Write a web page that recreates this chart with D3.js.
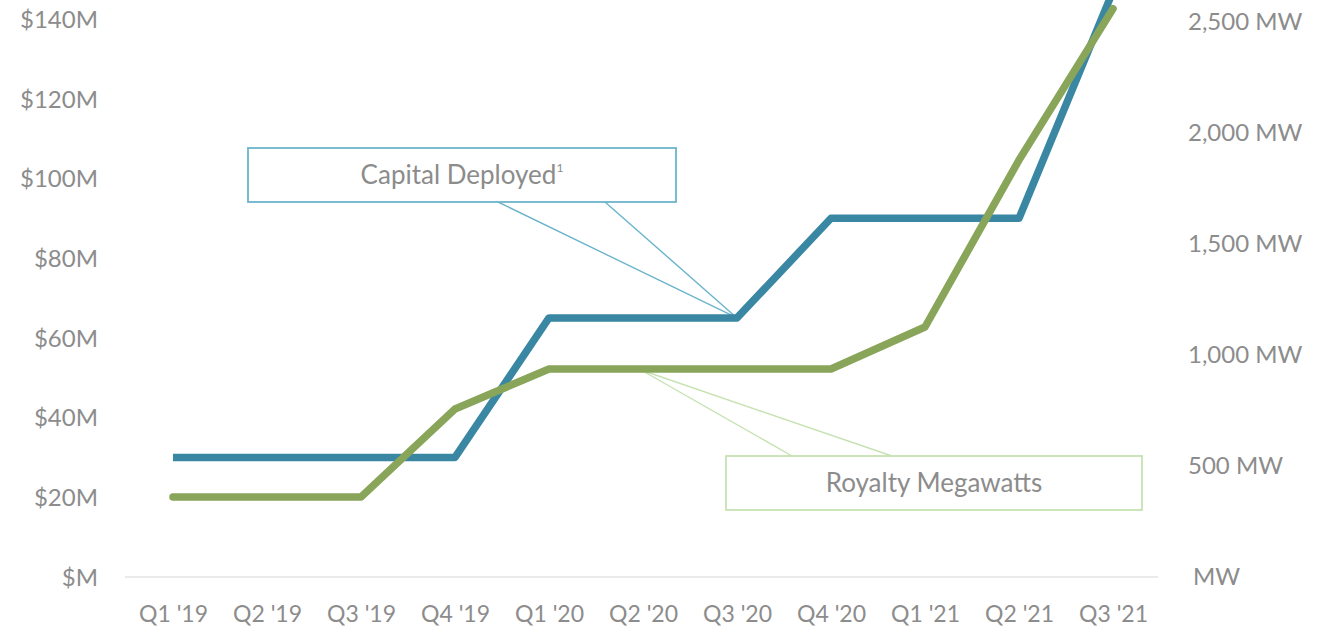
<!DOCTYPE html>
<html>
<head>
<meta charset="utf-8">
<script src="https://cdnjs.cloudflare.com/ajax/libs/d3/7.8.5/d3.min.js"></script>
<style>
  body { margin: 0; background: #fff; }
  svg { display: block; }
  text { font-family: Lato, "Open Sans", sans-serif; fill: #8c8c8c; }
  .axis text { font-size: 24px; }
  .axis.x text { font-size: 23px; }
  .axis path, .axis line { display: none; }
</style>
</head>
<body>
<script>
var quarters = ["Q1 '19", "Q2 '19", "Q3 '19", "Q4 '19", "Q1 '20", "Q2 '20", "Q3 '20", "Q4 '20", "Q1 '21", "Q2 '21", "Q3 '21"];
var capital = [30, 30, 30, 30, 65, 65, 65, 90, 90, 90, 147];        // $M
var megawatts = [360, 360, 360, 757, 937, 937, 937, 937, 1126, 1878, 2560]; // MW
var leftTicks = [0, 20, 40, 60, 80, 100, 120, 140];
var rightTicks = [0, 500, 1000, 1500, 2000, 2500];

var width = 1332, height = 628;

var svg = d3.select("body").append("svg")
  .attr("width", width)
  .attr("height", height);

var x = d3.scalePoint().domain(quarters).range([173, 1113]);
var yLeft = d3.scaleLinear().domain([0, 140]).range([577, 19]);
var yRight = d3.scaleLinear().domain([0, 2500]).range([577, 22]);

// baseline
svg.append("line")
  .attr("x1", 125).attr("x2", 1158)
  .attr("y1", yLeft(0)).attr("y2", yLeft(0))
  .attr("stroke", "#e3e3e3").attr("stroke-width", 1.5);

// axes
var fmtM = function(d){ return "$" + (d === 0 ? "" : d) + "M"; };
var fmtMW = function(d){ return (d === 0 ? "" : d3.format(",")(d) + " ") + "MW"; };

svg.append("g").attr("class", "axis")
  .attr("transform", "translate(104,0)")
  .call(d3.axisLeft(yLeft).tickValues(leftTicks).tickFormat(fmtM).tickSize(0).tickPadding(6))
  .selectAll("text").attr("dy", "0.35em");

svg.append("g").attr("class", "axis")
  .attr("transform", "translate(1182,0)")
  .call(d3.axisRight(yRight).tickValues(rightTicks).tickFormat(fmtMW).tickSize(0).tickPadding(6))
  .selectAll("text")
  .attr("dx", function(d){ return d === 0 ? 5 : 0; });

svg.append("g").attr("class", "axis x")
  .attr("transform", "translate(0,598)")
  .call(d3.axisBottom(x).tickSize(0).tickPadding(8));

// capital deployed callout - pointer goes down from bottom edge
var capTip = [x("Q3 '20"), yLeft(65)];
var cg = svg.append("g");
cg.append("path")
  .attr("d", "M498,202L" + capTip[0] + "," + capTip[1] + "L605,202")
  .attr("fill", "none").attr("stroke", "#6cb4cb").attr("stroke-width", 1.4);
cg.append("rect")
  .attr("x", 248).attr("y", 148).attr("width", 428).attr("height", 54)
  .attr("fill", "none").attr("stroke", "#6cb4cb").attr("stroke-width", 1.8);

// royalty megawatts callout - pointer goes up from top edge
var mwTip = [x("Q2 '20") - 2, yRight(937) + 1];
var mg = svg.append("g");
mg.append("path")
  .attr("d", "M792,456L" + mwTip[0] + "," + mwTip[1] + "L892,456")
  .attr("fill", "none").attr("stroke", "#c6e2b3").attr("stroke-width", 1.4);
mg.append("rect")
  .attr("x", 726).attr("y", 456).attr("width", 416).attr("height", 54)
  .attr("fill", "none").attr("stroke", "#c6e2b3").attr("stroke-width", 1.8);

// lines
var capLine = d3.line()
  .x(function(d, i){ return x(quarters[i]); })
  .y(function(d){ return yLeft(d); });

var mwLine = d3.line()
  .x(function(d, i){ return x(quarters[i]); })
  .y(function(d){ return yRight(d); });

svg.append("path")
  .datum(capital)
  .attr("d", capLine)
  .attr("fill", "none")
  .attr("stroke", "#3a87a3")
  .attr("stroke-width", 7.5)
  .attr("stroke-linejoin", "round");

svg.append("path")
  .datum(megawatts)
  .attr("d", mwLine)
  .attr("fill", "none")
  .attr("stroke", "#88a55a")
  .attr("stroke-width", 7.5)
  .attr("stroke-linejoin", "round")
  .attr("stroke-linecap", "round");

// callout labels
var capText = cg.append("text")
  .attr("x", 462).attr("y", 184)
  .attr("text-anchor", "middle")
  .style("font-size", "26px")
  .text("Capital Deployed");
capText.append("tspan").attr("dy", -12).style("font-size", "12px").text("1");

mg.append("text")
  .attr("x", 934).attr("y", 492)
  .attr("text-anchor", "middle")
  .style("font-size", "26px")
  .text("Royalty Megawatts");
</script>
</body>
</html>
